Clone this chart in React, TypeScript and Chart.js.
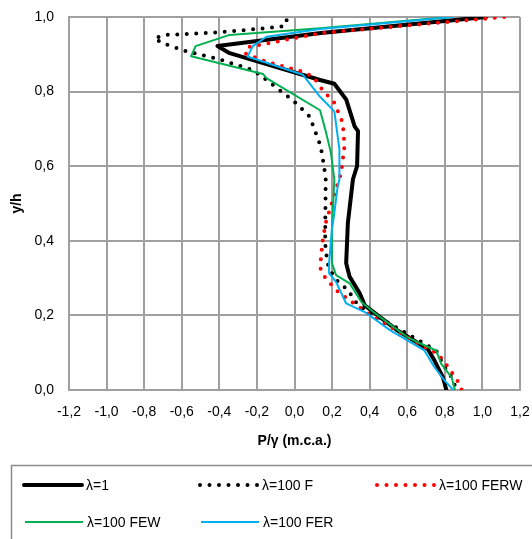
import React, { useEffect, useRef } from 'react';
import { Chart, registerables } from 'chart.js';

Chart.register(...registerables);

const seriesLabels = ['λ=1', 'λ=100 F', 'λ=100 FERW', 'λ=100 FEW', 'λ=100 FER'];

const lambda1X = [1.02, 0.14, -0.41, -0.345, 0.136, 0.212, 0.275, 0.32, 0.338, 0.333, 0.311, 0.284, 0.275, 0.293, 0.347, 0.374, 0.544, 0.709, 0.745, 0.79, 0.808];
const lambda1Y = [1.0, 0.957, 0.922, 0.903, 0.831, 0.821, 0.779, 0.707, 0.694, 0.6, 0.565, 0.448, 0.34, 0.304, 0.259, 0.227, 0.161, 0.11, 0.079, 0.034, 0.0];

const fX = [-0.042, -0.05, -0.149, -0.398, -0.68, -0.745, -0.71, -0.568, -0.416, -0.222, -0.149, -0.009, 0.081, 0.139, 0.157, 0.166, 0.163, 0.175, 0.212, 0.284, 0.338, 0.754, 0.799, 0.836, 0.863];
const fY = [0.991, 0.976, 0.97, 0.959, 0.952, 0.944, 0.931, 0.907, 0.889, 0.858, 0.831, 0.777, 0.733, 0.654, 0.6, 0.565, 0.394, 0.34, 0.3, 0.268, 0.227, 0.106, 0.061, 0.034, 0.0];

const ferwX = [1.116, 0.14, -0.238, -0.265, -0.149, 0.045, 0.1, 0.148, 0.212, 0.257, 0.266, 0.248, 0.221, 0.166, 0.148, 0.139, 0.139, 0.166, 0.221, 0.329, 0.42, 0.673, 0.763, 0.818, 0.872, 0.89];
const ferwY = [1.0, 0.957, 0.92, 0.903, 0.88, 0.853, 0.84, 0.805, 0.77, 0.716, 0.654, 0.582, 0.538, 0.448, 0.394, 0.344, 0.322, 0.299, 0.268, 0.227, 0.196, 0.12, 0.097, 0.061, 0.021, 0.0];

const fewX = [0.83, 0.136, -0.345, -0.526, -0.55, -0.167, -0.149, 0.136, 0.166, 0.194, 0.212, 0.199, 0.199, 0.221, 0.293, 0.356, 0.42, 0.492, 0.6, 0.673, 0.754, 0.781, 0.836, 0.854];
const fewY = [1.0, 0.97, 0.952, 0.922, 0.895, 0.847, 0.836, 0.75, 0.694, 0.636, 0.564, 0.43, 0.34, 0.308, 0.286, 0.236, 0.209, 0.182, 0.142, 0.124, 0.106, 0.07, 0.034, 0.0];

const ferX = [0.845, 0.136, -0.149, -0.222, -0.25, 0.045, 0.136, 0.212, 0.239, 0.239, 0.23, 0.212, 0.199, 0.184, 0.184, 0.221, 0.275, 0.374, 0.51, 0.691, 0.745, 0.799, 0.845];
const ferY = [1.0, 0.968, 0.947, 0.922, 0.894, 0.845, 0.786, 0.747, 0.645, 0.564, 0.547, 0.475, 0.43, 0.34, 0.313, 0.29, 0.232, 0.209, 0.16, 0.106, 0.061, 0.025, 0.0];

const xTickValues = [-1.2, -1.0, -0.8, -0.6, -0.4, -0.2, 0.0, 0.2, 0.4, 0.6, 0.8, 1.0, 1.2];
const yTickValues = [0.0, 0.2, 0.4, 0.6, 0.8, 1.0];

const xTitle = 'P/γ (m.c.a.)';
const yTitle = 'y/h';

const toPoints = (xs: number[], ys: number[]) => xs.map((x, i) => ({ x, y: ys[i] }));
const fmt = (v: number) => (Math.abs(v) < 1e-9 ? 0 : v).toFixed(1).replace('.', ',');

const legendPlugin = {
  id: 'boxLegend',
  afterDraw(chart: any) {
    const ctx = chart.ctx;
    ctx.save();
    ctx.setLineDash([]);
    ctx.strokeStyle = '#8c8c8c';
    ctx.lineWidth = 1.5;
    ctx.strokeRect(11.5, 465.5, 540, 100);
    const slots = [[24, 485], [200, 485], [377, 485], [25, 522], [201, 522]];
    chart.data.datasets.forEach((ds: any, i: number) => {
      const [x, y] = slots[i];
      ctx.beginPath();
      ctx.setLineDash(ds.borderDash || []);
      ctx.lineCap = ds.borderCapStyle || 'butt';
      ctx.lineWidth = ds.borderWidth;
      ctx.strokeStyle = ds.borderColor;
      ctx.moveTo(x, y);
      ctx.lineTo(x + 58, y);
      ctx.stroke();
      ctx.setLineDash([]);
      ctx.fillStyle = '#000';
      ctx.font = '14px "Liberation Sans"';
      ctx.textBaseline = 'middle';
      ctx.textAlign = 'left';
      ctx.fillText(ds.label, x + 62, y + 1);
    });
    ctx.restore();
  },
};

export default function App() {
  const ref = useRef<HTMLCanvasElement | null>(null);
  useEffect(() => {
    if (!ref.current) return;
    Chart.defaults.font.family = '"Liberation Sans", Arial, sans-serif';
    Chart.defaults.font.size = 14;
    Chart.defaults.color = '#000';
    const base = { showLine: true, pointRadius: 0, pointHoverRadius: 0, fill: false, tension: 0, borderJoinStyle: 'round' as const };
    const chart = new Chart(ref.current, {
      type: 'scatter',
      data: {
        datasets: [
          { ...base, label: seriesLabels[0], data: toPoints(lambda1X, lambda1Y), borderColor: '#000000', borderWidth: 4, borderCapStyle: 'round', order: 5 },
          { ...base, label: seriesLabels[1], data: toPoints(fX, fY), borderColor: '#000000', borderWidth: 4, borderDash: [0, 9.5], borderCapStyle: 'round', order: 4 },
          { ...base, label: seriesLabels[2], data: toPoints(ferwX, ferwY), borderColor: '#ff0000', borderWidth: 4, borderDash: [0, 9.5], borderCapStyle: 'round', order: 3 },
          { ...base, label: seriesLabels[3], data: toPoints(fewX, fewY), borderColor: '#00b050', borderWidth: 2, borderCapStyle: 'butt', order: 2 },
          { ...base, label: seriesLabels[4], data: toPoints(ferX, ferY), borderColor: '#00b0f0', borderWidth: 2, borderCapStyle: 'butt', order: 1 },
        ] as any,
      },
      options: {
        animation: false,
        responsive: false,
        devicePixelRatio: 1,
        layout: { padding: { top: 17, right: 12, bottom: 89, left: 0 } },
        plugins: { legend: { display: false }, tooltip: { enabled: false } },
        scales: {
          x: {
            type: 'linear',
            min: -1.2,
            max: 1.2,
            afterBuildTicks: (s: any) => { s.ticks = xTickValues.map((v) => ({ value: v })); },
            afterFit: (s: any) => { s.height = 60; s.paddingLeft = 0; s.paddingRight = 0; s.paddingTop = 0; s.paddingBottom = 0; },
            ticks: { callback: (v: any) => fmt(Number(v)), padding: 14, color: '#000', maxRotation: 0, autoSkip: false, font: { size: 14 } },
            grid: { color: '#a0a0a0', lineWidth: 2, drawTicks: false },
            border: { color: '#a0a0a0', width: 2 },
            title: { display: true, text: xTitle, color: '#000', font: { size: 14, weight: 'bold' }, padding: 0 },
          },
          y: {
            type: 'linear',
            min: 0,
            max: 1,
            afterBuildTicks: (s: any) => { s.ticks = yTickValues.map((v) => ({ value: v })); },
            afterFit: (s: any) => { s.width = 69; s.paddingLeft = 0; s.paddingRight = 0; s.paddingTop = 0; s.paddingBottom = 0; },
            ticks: { callback: (v: any) => fmt(Number(v)), padding: 15, color: '#000', font: { size: 14 } },
            grid: { color: '#a0a0a0', lineWidth: 2, drawTicks: false },
            border: { color: '#a0a0a0', width: 2 },
            title: { display: true, text: yTitle, color: '#000', font: { size: 14, weight: 'bold' }, padding: { top: 9, bottom: 0 } },
          },
        },
      } as any,
      plugins: [legendPlugin],
    });
    return () => chart.destroy();
  }, []);
  return (
    <div style={{ position: 'absolute', left: 0, top: 0, width: 532, height: 539, background: '#fff' }}>
      <canvas ref={ref} width={532} height={539} style={{ display: 'block' }} />
    </div>
  );
}
